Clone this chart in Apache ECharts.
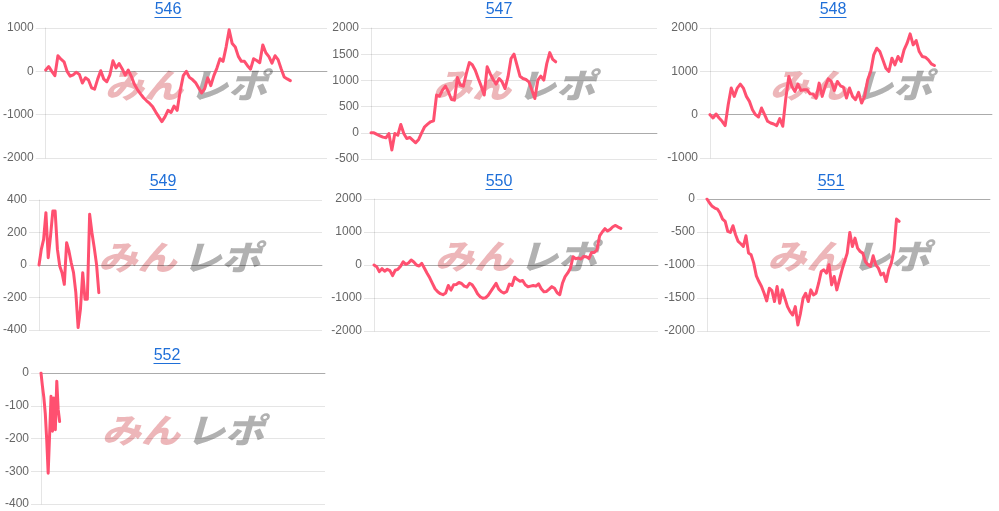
<!DOCTYPE html>
<html>
<head>
<meta charset="utf-8">
<script src="https://cdn.jsdelivr.net/npm/echarts@6/dist/echarts.min.js"></script>
<style>
html,body{margin:0;padding:0;background:#fff;}
#chart{width:999px;height:511px;}
</style>
</head>
<body>
<div id="chart"></div>
<script>
// ---- data ----
const titles = ['546', '547', '548', '549', '550', '551', '552'];

const v546 = [30,110,0,-100,360,280,220,0,-110,-80,-20,-70,-270,-150,-200,-380,-410,-180,15,-180,-240,-80,245,80,180,60,-90,30,-115,-300,-420,-520,-610,-680,-740,-820,-940,-1050,-1160,-1050,-900,-950,-800,-900,-450,-100,0,-140,-190,-260,-380,-500,-400,-150,-330,-100,75,290,230,560,960,640,560,345,230,230,130,50,290,250,200,610,430,340,190,360,270,60,-130,-175,-215];
const v547 = [0,0,-30,-57,-83,-95,-13,-330,-13,-45,160,-13,-108,-89,-140,-190,-127,0,115,165,210,230,720,700,815,890,780,636,623,1056,910,890,1130,1340,1300,1195,1037,890,720,1260,1130,1018,930,1037,973,845,1070,1418,1500,1290,1080,1037,1018,973,815,655,1005,1080,1005,1320,1530,1400,1355];
const v548 = [0,-77,15,-77,-153,-253,230,614,422,614,705,614,422,307,115,0,-54,153,0,-153,-192,-215,-253,-92,-268,380,882,652,537,705,560,575,575,483,475,383,728,422,652,828,767,560,767,667,637,383,614,422,345,514,268,422,805,997,1380,1534,1457,1265,1073,997,1304,1150,1342,1227,1495,1650,1864,1610,1710,1457,1342,1327,1265,1173,1135];
const v549 = [0,96,158,322,45,178,332,332,96,-6,-47,-119,137,86,14,-47,-170,-385,-273,-47,-211,-211,312,199,107,4,-170];
const v550 = [0,-50,-200,-110,-190,-130,-170,-320,-160,-130,-40,100,20,60,150,90,0,-30,50,-100,-250,-390,-555,-720,-810,-870,-900,-850,-620,-760,-600,-590,-530,-560,-640,-670,-555,-600,-720,-870,-960,-1010,-995,-920,-800,-680,-555,-730,-810,-850,-800,-580,-620,-370,-440,-490,-470,-600,-660,-640,-620,-640,-570,-720,-810,-800,-730,-656,-707,-840,-900,-555,-353,-240,-100,250,190,210,180,260,250,200,380,380,460,880,1000,1100,1030,1080,1160,1200,1150,1110];
const v551 = [0,-61,-111,-137,-152,-213,-304,-339,-491,-506,-405,-542,-643,-678,-719,-557,-820,-846,-972,-1164,-1251,-1326,-1428,-1544,-1352,-1387,-1554,-1326,-1580,-1377,-1504,-1630,-1706,-1757,-1630,-1909,-1732,-1504,-1428,-1554,-1377,-1453,-1428,-1276,-1099,-1073,-1124,-997,-1301,-1175,-1377,-1225,-1073,-947,-820,-506,-719,-592,-744,-795,-820,-947,-997,-1023,-861,-997,-1048,-1149,-1124,-1251,-1073,-972,-770,-304,-339];
const v552 = [0,-40,-75,-125,-205,-306,-306,-71,-178,-76,-173,-25,-112,-148];

// number of x-axis slots for each chart (data fills only the first part)
const xSlots = [93, 97, 94, 124, 108, 110, 199];

// y-axis ticks
const yMin  = [-2000, -500, -1000, -400, -2000, -2000, -400];
const yMax  = [1000, 2000, 2000, 400, 2000, 0, 0];
const yStep = [1000, 500, 1000, 200, 1000, 500, 100];

const watermarkLeft = 'みん';
const watermarkRight = 'レポ';

// ---- layout ----
const seriesData = [v546, v547, v548, v549, v550, v551, v552];
const rects = [
  {l: 45,  t: 28,  w: 282, h: 130},
  {l: 371, t: 28,  w: 286, h: 131},
  {l: 710, t: 28,  w: 282, h: 130},
  {l: 37,  t: 200, w: 285, h: 130},
  {l: 374, t: 199, w: 284, h: 132},
  {l: 707, t: 199, w: 283, h: 132},
  {l: 41,  t: 373, w: 284, h: 131}
];
const titlePos = [
  {x: 168, y: 2}, {x: 499, y: 2}, {x: 833, y: 2},
  {x: 163, y: 174}, {x: 499, y: 174}, {x: 831, y: 174},
  {x: 167, y: 348}
];

const LINK = '#1f6fd8';
const FONT = '"Liberation Sans", Arial, Helvetica, sans-serif';
const WM_FONT = 'italic 900 34px "Noto Sans CJK JP"';

const grids = [], xAxes = [], yAxes = [], series = [], graphics = [];
rects.forEach((r, i) => {
  grids.push({left: r.l, top: r.t, width: r.w, height: r.h, containLabel: false});
  const cats = Array.from({length: xSlots[i]}, (_, k) => String(k + 1));
  xAxes.push({
    gridIndex: i, type: 'category', data: cats, boundaryGap: false,
    axisLine: {show: true, onZero: true, lineStyle: {color: 'rgba(0,0,0,0.25)', width: 1}},
    axisTick: {show: false}, axisLabel: {show: false}, splitLine: {show: false}
  });
  yAxes.push({
    gridIndex: i, type: 'value', min: yMin[i], max: yMax[i], interval: yStep[i],
    axisLine: {show: true, lineStyle: {color: 'rgba(0,0,0,0.1)'}},
    axisTick: {show: true, length: 10, lineStyle: {color: 'rgba(0,0,0,0.1)'}},
    axisLabel: {color: '#666', fontSize: 12, fontFamily: FONT, margin: 12,
      formatter: v => String(v)},
    splitLine: {show: true, lineStyle: {color: 'rgba(0,0,0,0.1)', width: 1}}
  });
  series.push({
    type: 'line', xAxisIndex: i, yAxisIndex: i, data: seriesData[i],
    symbol: 'none', smooth: false, z: 5,
    lineStyle: {color: 'rgb(255,80,112)', width: 3, join: 'round', cap: 'round'},
    silent: true, animation: false
  });

  // title link
  const tp = titlePos[i];
  graphics.push({
    type: 'text', x: tp.x, y: tp.y, z: 10,
    style: {text: titles[i], fill: LINK, font: '16px ' + FONT,
      textAlign: 'center', textVerticalAlign: 'top'}
  });
  graphics.push({
    type: 'line', z: 10,
    shape: {x1: tp.x - 13.5, y1: tp.y + 15.5, x2: tp.x + 13.5, y2: tp.y + 15.5},
    style: {stroke: LINK, lineWidth: 1}
  });

  // watermark
  const cx = r.l + r.w / 2;
  const cy = r.t + 57;
  graphics.push({
    type: 'text', x: cx - 3, y: cy, z: 0, scaleX: 1.15,
    style: {text: watermarkLeft, fill: 'rgba(220,110,115,0.5)',
      font: WM_FONT, textAlign: 'right', textVerticalAlign: 'middle'}
  });
  graphics.push({
    type: 'text', x: cx + 3, y: cy, z: 0, scaleX: 1.15,
    style: {text: watermarkRight, fill: 'rgba(135,135,135,0.65)',
      font: WM_FONT, textAlign: 'left', textVerticalAlign: 'middle'}
  });
});

const chart = echarts.init(document.getElementById('chart'), null, {renderer: 'canvas'});
chart.setOption({
  animation: false,
  backgroundColor: '#fff',
  grid: grids,
  xAxis: xAxes,
  yAxis: yAxes,
  series: series,
  graphic: {elements: graphics}
});
</script>
</body>
</html>
